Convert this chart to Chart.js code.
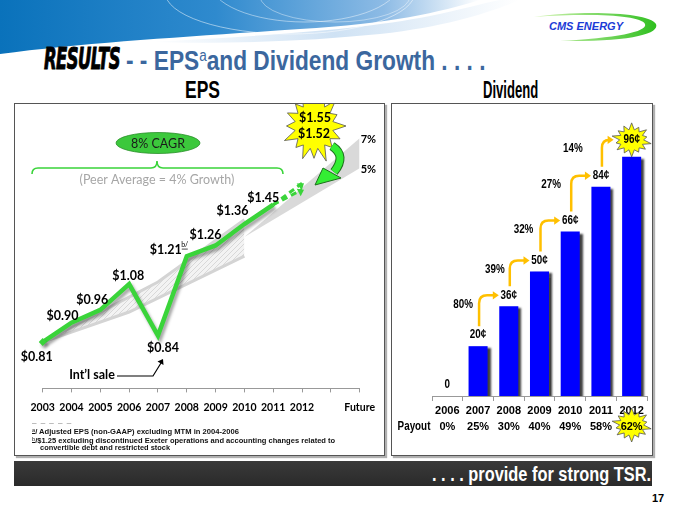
<!DOCTYPE html>
<html>
<head>
<meta charset="utf-8">
<title>Results - EPS and Dividend Growth</title>
<script src="https://cdn.jsdelivr.net/npm/chart.js"></script>
<style>
  html, body { margin: 0; padding: 0; background: #fff; }
  #slide { position: relative; width: 675px; height: 506px; overflow: hidden; font-family: "Liberation Sans", Arial, sans-serif; }
  .abs { position: absolute; white-space: nowrap; }
  .fit { display: inline-block; transform-origin: left top; }
  .bold { font-weight: bold; }
  .box { position: absolute; border: 1px solid #555; box-shadow: 2px 2px 1px #b0b0b0; background: #fff; }
  .results { font-family: "DejaVu Sans", sans-serif; font-weight: bold; font-style: italic; font-size: 30px; line-height: 30px; color: #000;
             letter-spacing: -1px; -webkit-text-stroke: 1px #000; }
  .ttl { color: #3b679e; font-size: 27px; font-weight: bold; }
  .ttl sup { font-size: 16px; vertical-align: 9px; font-weight: normal; }
  .foot { font-size: 8px; font-weight: bold; color: #111; line-height: 9px; }
  .foot u { font-size: 6px; position: relative; top: -2px; font-weight: normal; }
  canvas { position: absolute; }
</style>
</head>
<body>
<div id="slide">
  <!-- header wave -->
  <svg class="abs" style="left:0;top:0" width="675" height="80">
    <defs>
      <linearGradient id="hdr" x1="0" y1="0" x2="1" y2="0">
        <stop offset="0" stop-color="#0a72bb"/>
        <stop offset="0.45" stop-color="#2f8ace"/>
        <stop offset="0.8" stop-color="#8dbbe5"/>
        <stop offset="1" stop-color="#ffffff"/>
      </linearGradient>
      <linearGradient id="pale" x1="0" y1="0" x2="1" y2="0">
        <stop offset="0" stop-color="#ffffff"/>
        <stop offset="0.5" stop-color="#cfe2f4"/>
        <stop offset="1" stop-color="#ffffff"/>
      </linearGradient>
      <linearGradient id="swoosh" x1="0" y1="0" x2="1" y2="0">
        <stop offset="0" stop-color="#d6f5b5"/>
        <stop offset="1" stop-color="#2fbf1f"/>
      </linearGradient>
    </defs>
    <path d="M150,42 C260,36 360,30 430,16 C460,10 480,4 500,0 H520 C490,12 450,26 380,34 C300,42 220,44 150,42 Z" fill="url(#pale)"/>
    <path d="M0,0 H480 C440,12 390,24 300,29 C200,36 90,42 0,54 Z" fill="url(#hdr)"/>
    <ellipse cx="290" cy="-8" rx="125" ry="42" fill="none" stroke="#ffffff" stroke-opacity="0.5" stroke-width="1"/>
    <ellipse cx="305" cy="-18" rx="95" ry="40" fill="none" stroke="#ffffff" stroke-opacity="0.45" stroke-width="1"/>
    <ellipse cx="335" cy="-4" rx="75" ry="26" fill="none" stroke="#ffffff" stroke-opacity="0.4" stroke-width="1"/>
    <!-- logo -->
    <path d="M534,17 C580,10 650,12 656,24 C660,34 630,42 560,41 C615,38 648,32 645,24 C641,15 590,13 534,17 Z" fill="url(#swoosh)"/>
    <text x="586" y="30" text-anchor="middle" font-family="Liberation Sans, Arial" font-weight="bold" font-style="italic" font-size="11" fill="#1b3bd6">CMS ENERGY</text>
  </svg>

  <!-- title -->
  <div class="abs" style="left:44px; top:44px;"><span class="fit results" data-w="76">RESULTS</span></div>
  <div class="abs" style="left:126px; top:46px;"><span class="fit ttl" data-w="359">- -  EPS<sup>a</sup>and Dividend Growth  . . . .</span></div>

  <div class="abs" style="left:185px; top:76px;"><span class="fit bold" style="font-size:24px;" data-w="35">EPS</span></div>
  <div class="abs" style="left:483px; top:76px;"><span class="fit bold" style="font-size:24px;" data-w="55">Dividend</span></div>

  <!-- panels -->
  <div class="box" style="left:14px; top:103px; width:369px; height:351px;"></div>
  <div class="box" style="left:391px; top:103px; width:260px; height:351px;"></div>

  <canvas id="epsChart" width="370" height="320" style="left:14px; top:104px;"></canvas>
  <canvas id="divChart" width="261" height="340" style="left:391px; top:104px;"></canvas>

  <!-- footnotes -->
  <div class="abs foot" style="left:32px; top:416px; letter-spacing:1px;">_ _ _ _ _</div>
  <div class="abs foot" style="left:32px; top:427px;"><span class="fit" data-w="207"><u>a</u>/ Adjusted EPS (non-GAAP) excluding MTM in 2004-2006</span></div>
  <div class="abs foot" style="left:32px; top:436px;"><span class="fit" data-w="303"><u>b</u>/$1.25 excluding discontinued Exeter operations and accounting changes related to</span></div>
  <div class="abs foot" style="left:40px; top:443px;"><span class="fit" data-w="130">convertible debt and restricted stock</span></div>

  <!-- bottom banner -->
  <div class="abs" style="left:14px; top:461px; width:638px; height:25px; background:linear-gradient(#3a3a3a,#2a2a2a);"></div>
  <div class="abs" style="left:432px; top:462px;"><span class="fit bold" style="font-size:21px; line-height:23px; color:#fff;" data-w="219">. . . . provide for strong TSR.</span></div>
  <div class="abs bold" style="left:652px; top:492px; font-size:11px; color:#000;">17</div>
</div>

<script>
// fit condensed headline text to its measured width
document.querySelectorAll('.fit').forEach(el => {
  const w = parseFloat(el.dataset.w);
  el.style.transform = 'scaleX(' + (w / el.offsetWidth).toFixed(3) + ')';
});

// ---- EPS data ----
const epsYears = ['2003', '2004', '2005', '2006', '2007', '2008', '2009', '2010', '2011', '2012', '', 'Future'];
const epsActual = [0.81, 0.90, 0.96, 1.08, 0.84, 1.21, 1.26, 1.36, 1.45];   // 2003-2011
const epsGuidance = [1.55, 1.52];                                          // 2012 guidance
const peerHigh = [['2003', 0.81], ['2007', 1.09], ['2010', 1.38]];
const peerLow = [['2003', 0.81], ['2006', 0.95], ['2010', 1.21]];
const growthHigh = [['2010', 1.30], ['Future', 1.76]];   // 7%
const growthLow = [['2010', 1.30], ['Future', 1.62]];    // 5%
const growthLabels = ['7%', '5%'];

// ---- Dividend data ----
const divYears = ['2006', '2007', '2008', '2009', '2010', '2011', '2012'];
const divCents = [0, 20, 36, 50, 66, 84, 96];
const payout = ['0%', '25%', '30%', '40%', '49%', '58%', '62%'];
const divGrowth = ['80%', '39%', '32%', '27%', '14%'];

const SANS = '"Liberation Sans", Arial, sans-serif';
const CAL = 'Lato, "Open Sans", sans-serif';
const GREEN = '#3ad43a';

function starburst(ctx, cx, cy, rx, ry, n) {
  const spikes = [1, 0.82, 0.95, 0.78, 1, 0.88, 0.8, 1, 0.85, 0.93, 0.8, 1, 0.86, 0.9, 0.82, 0.97];
  ctx.save();
  ctx.beginPath();
  for (let i = 0; i < n * 2; i++) {
    const a = -Math.PI / 2 + i * Math.PI / n;
    const k = i % 2 === 0 ? spikes[(i / 2) % spikes.length] : 0.6;
    const x = cx + Math.cos(a) * rx * k, y = cy + Math.sin(a) * ry * k;
    i === 0 ? ctx.moveTo(x, y) : ctx.lineTo(x, y);
  }
  ctx.closePath();
  ctx.fillStyle = '#ffff00';
  ctx.fill();
  ctx.strokeStyle = '#555';
  ctx.lineWidth = 0.8;
  ctx.stroke();
  ctx.restore();
}

function arrowHead(ctx, x, y, ang, size, color) {
  ctx.save();
  ctx.translate(x, y);
  ctx.rotate(ang);
  ctx.beginPath();
  ctx.moveTo(0, 0);
  ctx.lineTo(-size, -size * 0.7);
  ctx.lineTo(-size, size * 0.7);
  ctx.closePath();
  ctx.fillStyle = color;
  ctx.fill();
  ctx.restore();
}

// narrow text: squeeze horizontally around the anchor
function narrowText(ctx, txt, x, y, sx) {
  ctx.save();
  ctx.translate(x, y);
  ctx.scale(sx, 1);
  ctx.fillText(txt, 0, 0);
  ctx.restore();
}

// hatch pattern for peer band
const hatch = document.createElement('canvas');
hatch.width = 5; hatch.height = 5;
const hctx = hatch.getContext('2d');
hctx.fillStyle = '#f3f3f3';
hctx.fillRect(0, 0, 5, 5);
hctx.strokeStyle = '#cccccc';
hctx.lineWidth = 0.7;
hctx.beginPath(); hctx.moveTo(0, 5); hctx.lineTo(5, 0); hctx.stroke();
const hatchPattern = hctx.createPattern(hatch, 'repeat');

const toXY = arr => arr.map(p => ({ x: p[0], y: p[1] }));

// label offsets from each EPS point (px)
const epsLabelOffset = [[-6, 15], [-9, -7], [-8, -10], [-1, -8], [5, 12], [-21, -6], [-10, -11], [-12, -13], [-10, -7]];

const epsDecor = {
  id: 'epsDecor',
  beforeDatasetDraw(chart, args) {
    if (args.meta.label === 'EPS') {
      chart.ctx.save();
      chart.ctx.shadowColor = 'rgba(0,0,0,0.35)';
      chart.ctx.shadowOffsetX = 2;
      chart.ctx.shadowOffsetY = 3;
      chart.ctx.shadowBlur = 3;
    }
  },
  afterDatasetDraw(chart, args) {
    if (args.meta.label === 'EPS') chart.ctx.restore();
  },
  afterDatasetsDraw(chart) {
    const ctx = chart.ctx, x = chart.scales.x, y = chart.scales.y;
    ctx.save();
    // arrowheads on guidance lines
    chart.data.datasets.forEach((ds, i) => {
      if (!ds.guidance) return;
      const pts = chart.getDatasetMeta(i).data;
      const a = pts[0], b = pts[pts.length - 1];
      arrowHead(ctx, b.x + 2, b.y, Math.atan2(b.y - a.y, b.x - a.x), 6, GREEN);
    });
    // value labels
    ctx.font = 'bold 12.5px ' + CAL;
    ctx.fillStyle = '#000';
    ctx.textAlign = 'center';
    ctx.textBaseline = 'middle';
    const meta = chart.getDatasetMeta(0).data;
    epsActual.forEach((v, i) => {
      const o = epsLabelOffset[i];
      ctx.fillText('$' + v.toFixed(2), meta[i].x + o[0], meta[i].y + o[1]);
    });
    // b/ note on 2008
    ctx.font = '7px ' + CAL;
    const bx = meta[5].x - 2, by = meta[5].y - 11;
    ctx.fillText('b/', bx, by);
    ctx.fillRect(bx - 3, by + 3.5, 6, 0.7);
    // 7% / 5% labels
    ctx.font = 'bold 11px ' + CAL;
    ctx.textAlign = 'left';
    const fx = x.getPixelForValue(epsYears.indexOf('Future'));
    ctx.fillText(growthLabels[0], fx + 1, y.getPixelForValue(growthHigh[1][1]) + 1);
    ctx.fillText(growthLabels[1], fx + 1, y.getPixelForValue(growthLow[1][1]) + 1);

    // CAGR bubble, bracket, peer text
    ctx.beginPath();
    ctx.ellipse(144, 39, 42, 10.5, 0, 0, Math.PI * 2);
    ctx.fillStyle = '#3cc83c';
    ctx.fill();
    ctx.strokeStyle = '#2a8f2a';
    ctx.lineWidth = 0.8;
    ctx.stroke();
    ctx.fillStyle = '#1a1a1a';
    ctx.textAlign = 'center';
    ctx.font = '12.5px ' + CAL;
    ctx.fillText('8% CAGR', 144, 39.5);

    ctx.strokeStyle = GREEN;
    ctx.lineWidth = 1.6;
    ctx.beginPath();
    ctx.moveTo(18, 70);
    ctx.quadraticCurveTo(18, 64, 24, 64);
    ctx.lineTo(137, 64);
    ctx.quadraticCurveTo(143, 64, 143, 57);
    ctx.quadraticCurveTo(143, 64, 149, 64);
    ctx.lineTo(263, 64);
    ctx.quadraticCurveTo(269, 64, 269, 70);
    ctx.stroke();

    ctx.fillStyle = '#a6a6a6';
    ctx.font = '12.5px ' + CAL;
    ctx.fillText('(Peer Average = 4% Growth)', 143, 76);

    // Int'l sale callout
    ctx.fillStyle = '#000';
    ctx.font = 'bold 12.5px ' + CAL;
    ctx.fillText('Int\u2019l sale', 78, 271);
    ctx.strokeStyle = '#000';
    ctx.lineWidth = 1.2;
    ctx.beginPath();
    ctx.moveTo(103, 272);
    ctx.lineTo(139, 272);
    ctx.lineTo(147, 259);
    ctx.stroke();
    arrowHead(ctx, 149, 255, -Math.PI / 3, 5, '#000');

    // starburst with guidance
    starburst(ctx, 300, 22, 32, 38, 16);
    ctx.fillStyle = '#000';
    ctx.font = 'bold 12.5px ' + CAL;
    ctx.fillText('$' + epsGuidance[0].toFixed(2), 301, 14);
    ctx.fillText('$' + epsGuidance[1].toFixed(2), 300, 30);

    // curved green arrow
    ctx.beginPath();
    ctx.moveTo(318, 42);
    ctx.quadraticCurveTo(333, 52, 320, 68);
    ctx.lineWidth = 9;
    ctx.strokeStyle = '#1d6e1d';
    ctx.stroke();
    ctx.lineWidth = 7;
    ctx.strokeStyle = '#33ee33';
    ctx.stroke();
    ctx.beginPath();
    ctx.moveTo(301, 81);
    ctx.lineTo(309, 64);
    ctx.lineTo(327, 74);
    ctx.closePath();
    ctx.fillStyle = '#33ee33';
    ctx.fill();
    ctx.strokeStyle = '#1d6e1d';
    ctx.lineWidth = 1;
    ctx.stroke();
    ctx.restore();
  }
};

new Chart(document.getElementById('epsChart'), {
  type: 'line',
  data: {
    labels: epsYears,
    datasets: [
      {
        label: 'EPS', data: epsActual, order: 0,
        borderColor: GREEN, borderWidth: 4.5, tension: 0,
        pointStyle: 'rectRot', pointRadius: epsActual.map((v, i) => i === 0 ? 4 : 0),
        pointBackgroundColor: GREEN, pointBorderWidth: 0
      },
      {
        label: 'Guidance high', guidance: true, order: 1,
        data: [{ x: '2011', y: epsActual[8] }, { x: '2012', y: epsGuidance[0] }],
        borderColor: GREEN, borderWidth: 3, borderDash: [6, 4], pointRadius: 0
      },
      {
        label: 'Guidance low', guidance: true, order: 1,
        data: [{ x: '2011', y: epsActual[8] }, { x: '2012', y: epsGuidance[1] }],
        borderColor: GREEN, borderWidth: 3, borderDash: [6, 4], pointRadius: 0
      },
      {
        label: 'Peer high', data: toXY(peerHigh), order: 5,
        borderColor: '#d4d4d4', borderWidth: 3, pointRadius: 0, fill: false
      },
      {
        label: 'Peer low', data: toXY(peerLow), order: 5,
        borderColor: '#d4d4d4', borderWidth: 3, pointRadius: 0,
        fill: '-1', backgroundColor: hatchPattern
      },
      {
        label: '7%', data: toXY(growthHigh), order: 6,
        borderWidth: 0, borderColor: 'rgba(0,0,0,0)', pointRadius: 0, fill: false
      },
      {
        label: '5%', data: toXY(growthLow), order: 6,
        borderWidth: 0, borderColor: 'rgba(0,0,0,0)', pointRadius: 0,
        fill: '-1', backgroundColor: '#d9d9d9'
      }
    ]
  },
  options: {
    responsive: false,
    animation: false,
    events: [],
    layout: { padding: { left: 28.7, right: 15.7, top: 8, bottom: 1 } },
    plugins: { legend: { display: false }, tooltip: { enabled: false } },
    scales: {
      x: {
        grid: { drawOnChartArea: false, tickLength: 4, color: '#999' },
        border: { color: '#999' },
        ticks: { color: '#000', padding: 9, maxRotation: 0, autoSkip: false,
                 font: { family: CAL, weight: 'bold', size: 10.5 } }
      },
      y: { display: false, min: 0.594, max: 1.882 }
    }
  },
  plugins: [epsDecor]
});

// ---- Dividend chart ----
const growthLabelDx = [-15, -14, -16, -19, -28];

const divDecor = {
  id: 'divDecor',
  beforeDatasetDraw(chart) {
    const ctx = chart.ctx;
    ctx.save();
    ctx.shadowColor = 'rgba(0,0,0,0.75)';
    ctx.shadowOffsetX = 3;
    ctx.shadowOffsetY = 2;
    ctx.shadowBlur = 2;
  },
  afterDatasetDraw(chart) { chart.ctx.restore(); },
  afterDraw(chart) {
    const ctx = chart.ctx, y = chart.scales.y, x = chart.scales.x;
    const bars = chart.getDatasetMeta(0).data;
    const last = divCents.length - 1;
    ctx.save();
    const lab = divCents.map((v, i) => ({
      x: bars[i].x,
      y: i === last ? y.getPixelForValue(v) - 17 : y.getPixelForValue(v) - 11
    }));
    // growth arrows
    ctx.strokeStyle = '#ffc000';
    ctx.lineWidth = 2.5;
    ctx.textAlign = 'center';
    ctx.textBaseline = 'middle';
    ctx.font = 'bold 12px ' + SANS;
    divGrowth.forEach((g, k) => {
      const a = lab[k + 1], b = lab[k + 2];
      const tipX = (k + 2 === last) ? b.x - 18 : b.x - 10;
      ctx.beginPath();
      ctx.moveTo(a.x + 1, a.y - 9);
      ctx.lineTo(a.x + 1, b.y + 8);
      ctx.quadraticCurveTo(a.x + 1, b.y, a.x + 9, b.y);
      ctx.lineTo(tipX - 5, b.y);
      ctx.stroke();
      arrowHead(ctx, tipX, b.y, 0, 6, '#ffc000');
      ctx.fillStyle = '#000';
      narrowText(ctx, g, a.x + growthLabelDx[k], b.y + 9, 0.82);
    });
    // value labels
    starburst(ctx, lab[last].x, lab[last].y, 20, 17, 14);
    ctx.fillStyle = '#000';
    divCents.forEach((v, i) => narrowText(ctx, v === 0 ? '0' : v + '\u00a2', lab[i].x, lab[i].y, 0.82));
    // payout row
    const rowY = x.top + 5 + 2 + 16 + 8;
    ctx.font = 'bold 12px ' + SANS;
    narrowText(ctx, 'Payout', chart.chartArea.left - 18, rowY, 0.82);
    starburst(ctx, bars[last].x, rowY - 2, 20, 17, 14);
    ctx.fillStyle = '#000';
    ctx.font = 'bold 11px ' + SANS;
    ctx.fillText(payout[last], bars[last].x, rowY);
    ctx.restore();
  }
};

new Chart(document.getElementById('divChart'), {
  type: 'bar',
  data: {
    labels: divYears,
    datasets: [{
      label: 'Dividend', data: divCents,
      backgroundColor: '#0000ff', borderWidth: 0,
      barPercentage: 0.62, categoryPercentage: 1
    }]
  },
  options: {
    responsive: false,
    animation: false,
    events: [],
    layout: { padding: { left: 41, right: 5, top: 18, bottom: 7 } },
    plugins: { legend: { display: false }, tooltip: { enabled: false } },
    scales: {
      x: {
        grid: { drawOnChartArea: false, tickLength: 5, color: '#999', offset: true },
        border: { color: '#999' },
        ticks: {
          color: '#000', padding: 2, maxRotation: 0, autoSkip: false,
          font: { family: SANS, weight: 'bold', size: 11, lineHeight: 16 / 11 },
          callback: (v, i) => [divYears[i], payout[i]]
        }
      },
      y: { display: false, min: 0, max: 110 }
    }
  },
  plugins: [divDecor]
});
</script>
</body>
</html>
